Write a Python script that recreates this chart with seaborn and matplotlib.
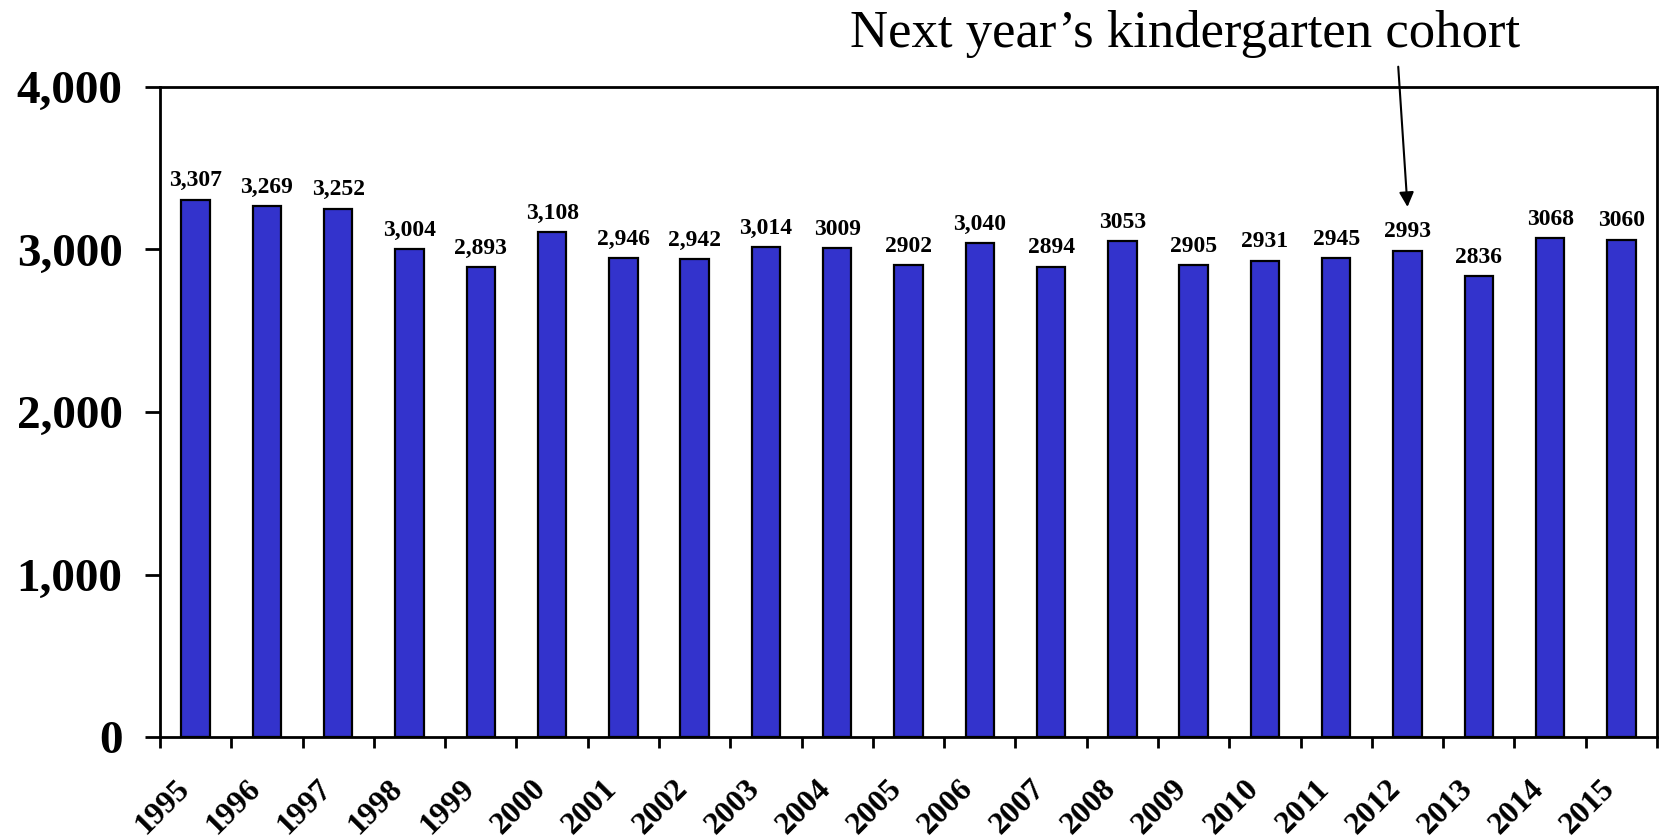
import numpy as np
import pandas as pd
import matplotlib
matplotlib.use('Agg')
import matplotlib.pyplot as plt
import matplotlib.transforms as mtransforms
import seaborn as sns

years = ['1995', '1996', '1997', '1998', '1999', '2000', '2001', '2002', '2003', '2004', '2005',
         '2006', '2007', '2008', '2009', '2010', '2011', '2012', '2013', '2014', '2015']
births = [3307, 3269, 3252, 3004, 2893, 3108, 2946, 2942, 3014, 3009, 2902,
          3040, 2894, 3053, 2905, 2931, 2945, 2993, 2836, 3068, 3060]
bar_labels = ['3,307', '3,269', '3,252', '3,004', '2,893', '3,108', '2,946', '2,942', '3,014', '3009', '2902',
              '3,040', '2894', '3053', '2905', '2931', '2945', '2993', '2836', '3068', '3060']
y_ticks = [0, 1000, 2000, 3000, 4000]
y_ticklabels = ['0', '1,000', '2,000', '3,000', '4,000']
note = 'Next year\u2019s kindergarten cohort'
note_year = '2012'

df = pd.DataFrame({'year': years, 'births': births})

sns.set_style('white')
plt.rcParams['font.family'] = ['Liberation Serif', 'DejaVu Serif']
plt.rcParams['text.color'] = 'black'
plt.rcParams['xtick.color'] = 'black'
plt.rcParams['ytick.color'] = 'black'

fig = plt.figure(figsize=(16.61, 8.38), dpi=100)
ax = fig.add_axes([160 / 1661, 1 - 737 / 838, (1657 - 160) / 1661, (737 - 87) / 838])

sns.barplot(data=df, x='year', y='births', color='#3333CC', saturation=1, width=0.4,
            edgecolor='black', linewidth=1.6, ax=ax)

ax.set_xlim(-0.5, len(years) - 0.5)
ax.set_ylim(0, 4000)
ax.set_xlabel('')
ax.set_ylabel('')

for s in ax.spines.values():
    s.set_visible(True)
    s.set_color('black')
    s.set_linewidth(2)

ax.set_yticks(y_ticks)
ax.set_yticklabels(y_ticklabels, fontsize=34, fontweight='bold', color='black')
ax.tick_params(axis='y', direction='out', length=11, width=2, pad=16, left=True)

# category labels near bar centres, tick marks at category boundaries
ax.set_xticks(np.arange(len(years)))
ax.set_xticklabels(years, fontsize=23, fontweight='bold', rotation=45, ha='right', va='top',
                   rotation_mode='anchor', color='black')
ax.tick_params(axis='x', which='major', length=0, pad=27)
shift = mtransforms.ScaledTranslation(-21 / 100, 0, fig.dpi_scale_trans)
for lab in ax.get_xticklabels():
    lab.set_transform(lab.get_transform() + shift)
ax.set_xticks(np.arange(len(years) + 1) - 0.5, minor=True)
ax.tick_params(axis='x', which='minor', direction='out', length=8, width=2, bottom=True)

ax.bar_label(ax.containers[0], labels=bar_labels, padding=6, fontsize=17, fontweight='bold',
             color='black')

xi = years.index(note_year)
fig.text(1185 / 1661, 1 - 47 / 838, note, ha='center', va='baseline', fontsize=38, color='black')
ax.annotate('', xy=(xi, 3262), xytext=(xi - 0.13, 4125), textcoords='data',
            annotation_clip=False,
            arrowprops=dict(arrowstyle='-|>', color='black', lw=1.5, mutation_scale=22,
                            shrinkA=0, shrinkB=0))

fig.savefig('out.png', dpi=100)
